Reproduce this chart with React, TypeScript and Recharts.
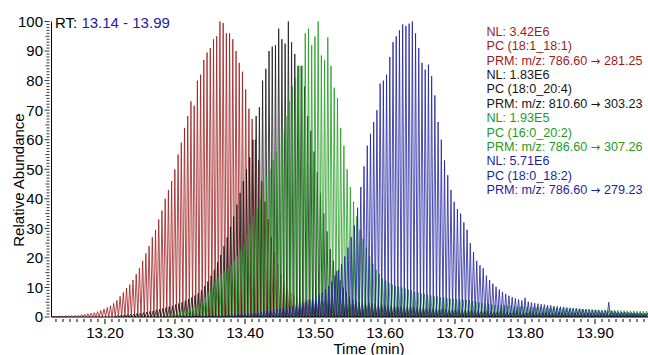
import { LineChart, Line, XAxis, YAxis } from "recharts";

// one PRM cycle (min) and the first scan time of the trace window
const CYCLE = 0.0046;
const T0 = 13.125;

// peak heights (% relative abundance) per scan
const RED_START = 0;
const RED_HEIGHTS = [
  0.2, 0.2, 0.3, 0.3, 0.4, 0.4, 0.5, 0.5, 0.6, 0.8,
  0.9, 1.1, 1.3, 1.5, 1.8, 2.2, 2.7, 3.2, 3.8, 4.6,
  5.6, 7.0, 8.3, 9.8, 11, 12.5, 14.5, 16.5, 19, 21.5,
  24, 27, 29.5, 33, 36, 40, 43, 46, 50, 55,
  59, 64, 68, 73, 71.5, 80, 82, 87, 89.5, 91,
  94, 95, 100, 99.5, 96, 96, 94, 90, 86, 83,
  77, 70.5, 67, 60, 53, 46, 39, 33, 27, 22,
  18, 14.5, 11.5, 9.5, 8.2, 7.3, 6.8, 6.3, 6.0, 5.8,
  5.6, 5.5, 5.3, 5.4, 5.0, 5.1, 4.9, 4.8, 4.9, 4.6,
  4.5, 4.6, 4.3, 4.2, 4.3, 4.0, 3.9, 4.0, 3.8, 3.7,
  3.7, 3.5, 3.6, 3.4, 3.3, 3.4, 3.2, 3.1, 3.2, 3.0,
  3.0, 2.9, 3.0, 2.8, 2.7, 2.8, 2.6, 2.5, 2.6, 2.4,
  2.4, 2.3, 2.4, 2.2, 2.1, 2.2, 2.0, 2.0, 2.1, 1.9,
  1.9, 1.8, 1.9, 1.7, 1.7, 1.8, 1.6, 1.6, 1.7, 1.5,
  1.5, 1.6, 1.4, 1.5, 1.4, 1.4, 1.3, 1.4, 1.3, 1.3,
  1.3, 1.2, 1.3, 1.2, 1.2, 1.1, 1.2, 1.1, 1.1, 1.2,
  1.1, 1.0, 1.1, 1.0, 1.0, 1.1, 1.0, 0.9, 1.0, 1.0,
  0.9, 1.0, 0.9, 0.9, 1.0, 0.9, 0.8, 0.9, 0.9, 0.8,
  0.9, 0.8, 0.8, 0.9, 0.8,
];

const BLACK_START = 20;
const BLACK_HEIGHTS = [
  0.5, 0.6, 0.7, 0.8, 0.9, 1.0, 1.2, 1.3, 1.5, 1.7,
  1.9, 2.1, 2.4, 2.6, 2.9, 3.2, 3.5, 3.8, 4.2, 4.6,
  5.0, 5.5, 6.0, 6.6, 7.3, 8.0, 9.0, 10.5, 12, 14,
  16, 18.5, 21, 24, 27, 30.5, 34, 38, 42, 46,
  50, 54, 60, 68, 71, 80, 84, 90, 91.5, 92,
  97.6, 94, 92.5, 100, 93, 89, 85, 85, 78, 68,
  63, 56, 49, 42, 35, 29, 23, 19, 15.5, 12.5,
  10, 8.3, 7, 6, 5.3, 5.0, 4.9, 4.7, 4.8, 4.5,
  4.4, 4.2, 4.3, 4.1, 4.0, 3.8, 3.9, 3.7, 3.6, 3.5,
  3.5, 3.4, 3.3, 3.2, 3.3, 3.1, 3.0, 3.0, 2.9, 2.9,
  2.8, 2.8, 2.7, 2.6, 2.7, 2.5, 2.5, 2.4, 2.4, 2.3,
  2.3, 2.2, 2.2, 2.1, 2.2, 2.0, 2.0, 2.1, 1.9, 2.0,
  1.9, 1.9, 1.8, 1.9, 1.8, 1.7, 1.8, 1.7, 1.7, 1.6,
  1.7, 1.6, 1.6, 1.5, 1.6, 1.5, 1.5, 1.6, 1.5, 1.4,
  1.5, 1.4, 1.4, 1.5, 1.4, 1.3, 1.4, 1.4, 1.3, 1.3,
  1.4, 1.3, 1.3, 1.2, 1.3, 1.3, 1.2, 1.3, 1.2, 1.2,
  1.3, 1.2, 1.2, 1.1, 1.2,
];

const GREEN_START = 35;
const GREEN_HEIGHTS = [
  0.6, 0.8, 1.0, 1.2, 1.5, 1.8, 2.1, 2.5, 2.9, 3.3,
  4.2, 5.3, 6.5, 8.5, 10.5, 12, 13.5, 14.5, 15.5, 16.5,
  17.5, 19, 20.5, 22.5, 25, 28, 31, 34, 37, 40,
  43.5, 47, 50, 53, 56, 60, 63, 68, 73, 78,
  81, 85, 85, 96, 97.6, 92, 95, 100, 88.5, 87,
  94.6, 85, 77.6, 74, 64, 58, 50, 44, 39, 34,
  29.5, 26.5, 23.5, 20.5, 18, 16, 14.5, 13, 12.3, 11.5,
  11, 10.5, 10.2, 10, 9.6, 9.3, 9, 8.5, 8.3, 8,
  7.8, 7.5, 7.3, 7, 6.9, 6.7, 6.6, 6.4, 6.2, 6.1,
  6.0, 5.9, 5.8, 5.8, 5.7, 5.4, 5.2, 4.9, 4.7, 4.5,
  4.4, 4.2, 4.1, 4.0, 4.0, 3.9, 3.8, 3.8, 3.7, 3.6,
  3.6, 3.5, 3.5, 3.4, 3.4, 3.3, 3.3, 3.2, 3.2, 3.1,
  3.1, 3.0, 3.0, 2.9, 2.9, 2.8, 2.8, 2.8, 2.7, 2.7,
  2.6, 2.6, 2.5, 2.5, 2.5, 2.4, 2.4, 2.3, 2.3, 2.3,
  2.2, 2.2, 2.2, 2.1, 2.1, 2.1, 2.0, 2.0, 2.0, 2.0,
];

const BLUE_START = 40;
const BLUE_HEIGHTS = [
  0.3, 0.3, 0.3, 0.4, 0.4, 0.5, 0.5, 0.5, 0.5, 0.5,
  0.5, 0.5, 0.6, 0.6, 0.7, 0.8, 0.9, 1.0, 1.0, 1.1,
  1.2, 1.3, 1.5, 1.6, 1.8, 2.0, 2.2, 2.3, 2.5, 2.7,
  2.9, 3.1, 3.3, 3.5, 3.8, 4.0, 4.4, 4.8, 5.2, 5.8,
  6.4, 7.0, 7.6, 8.4, 9.4, 10.5, 12, 14, 16, 18,
  20.5, 23.5, 27, 31, 37, 44, 51, 58, 62, 66,
  70, 79, 80, 82, 88, 93, 95, 97, 99, 98.5,
  99.3, 100, 96, 91, 86, 83.7, 85.4, 81.5, 75, 66,
  60, 53, 48, 43, 39, 36.5, 35, 32, 29.5, 25,
  22, 19, 17.5, 16.5, 14, 12.5, 11.3, 10.2, 9.3, 8.5,
  7.8, 7.2, 6.7, 6.3, 5.9, 5.6, 6.5, 5.2, 4.9, 4.7,
  4.5, 4.3, 4.2, 4.0, 3.9, 3.7, 3.6, 3.5, 3.4, 3.2,
  3.1, 3.0, 2.9, 2.8, 2.7, 2.6, 2.5, 2.4, 2.3, 2.2,
  2.1, 2.2, 5.0, 2.0, 1.9, 1.8, 1.7, 1.7, 1.6, 1.5,
  1.5, 1.4, 1.4, 1.3, 1.3,
];

const X_LABELS = ["13.20", "13.30", "13.40", "13.50", "13.60", "13.70", "13.80", "13.90"];
const Y_LABELS = [0, 10, 20, 30, 40, 50, 60, 70, 80, 90, 100];

const RED = "#9e1b1b";
const BLACK = "#151515";
const GREEN = "#1f9a1f";
const BLUE = "#1f1f9e";

// legend lines: text, plus the product ion after the arrow
const LEGEND = [
  { text: "NL: 3.42E6", color: RED },
  { text: "PC (18:1_18:1)", color: RED },
  { text: "PRM: m/z: 786.60", to: "281.25", color: RED },
  { text: "NL: 1.83E6", color: BLACK },
  { text: "PC (18:0_20:4)", color: BLACK },
  { text: "PRM: m/z: 810.60", to: "303.23", color: BLACK },
  { text: "NL: 1.93E5", color: GREEN },
  { text: "PC (16:0_20:2)", color: GREEN },
  { text: "PRM: m/z: 786.60", to: "307.26", color: GREEN },
  { text: "NL: 5.71E6", color: BLUE },
  { text: "PC (18:0_18:2)", color: BLUE },
  { text: "PRM: m/z: 786.60", to: "279.23", color: BLUE },
];

// each scan becomes a spike: up to its height, back to baseline half a cycle later
function buildTrace(heights: number[], start: number, phase: number) {
  const rows: { t: number; v: number }[] = [];
  rows.push({ t: T0 + (start + phase - 0.5) * CYCLE, v: 0 });
  heights.forEach((h, i) => {
    const t = T0 + (start + i + phase) * CYCLE;
    rows.push({ t, v: h });
    rows.push({ t: t + 0.5 * CYCLE, v: 0 });
  });
  return rows;
}

const redData = buildTrace(RED_HEIGHTS, RED_START, 0);
const blackData = buildTrace(BLACK_HEIGHTS, BLACK_START, 0.25);
const greenData = buildTrace(GREEN_HEIGHTS, GREEN_START, 0.5);
const blueData = buildTrace(BLUE_HEIGHTS, BLUE_START, 0.75);

const xTicks: number[] = [];
for (let i = 13; i <= 97; i++) xTicks.push(13 + i / 100);
const yTicks: number[] = [];
for (let i = 0; i <= 100; i++) yTicks.push(i);

const FONT = "'Liberation Sans', Arial, sans-serif";

const XTick = (props: any) => {
  const { x, y, payload } = props;
  const v = payload.value as number;
  const hund = Math.round(v * 100);
  const label = X_LABELS.find((s) => Math.round(parseFloat(s) * 100) === hund);
  return (
    <g>
      <line x1={x} x2={x} y1={y} y2={y + (label ? 5 : 3)} stroke="#000" strokeWidth={1} />
      {label && (
        <text x={x} y={y + 19} textAnchor="middle" fontSize={15} fontFamily={FONT} fill="#000">
          {label}
        </text>
      )}
    </g>
  );
};

const YTick = (props: any) => {
  const { x, y, payload } = props;
  const v = Math.round(payload.value as number);
  const major = Y_LABELS.includes(v);
  const len = major ? 5 : v % 5 === 0 ? 4 : 3;
  return (
    <g>
      <line x1={x - len} x2={x} y1={y} y2={y} stroke="#000" strokeWidth={0.8} />
      {major && (
        <text x={x - 6.5} y={y + 5.4} textAnchor="end" fontSize={15} fontFamily={FONT} fill="#000">
          {v}
        </text>
      )}
    </g>
  );
};

export default function App() {
  return (
    <div style={{ position: "absolute", left: 0, top: 0, width: 648, height: 355, background: "#fff", fontFamily: FONT }}>
      <LineChart width={648} height={355} margin={{ top: 21.5, right: 0, bottom: 0, left: 0 }}>
        <XAxis
          type="number"
          dataKey="t"
          domain={[13.1236, 13.9757]}
          allowDataOverflow
          ticks={xTicks}
          interval={0}
          tickSize={0}
          tickLine={false}
          tick={<XTick />}
          height={38}
          axisLine={{ stroke: "#000" }}
        />
        <YAxis
          type="number"
          domain={[0, 100]}
          ticks={yTicks}
          interval={0}
          tickSize={0}
          tickLine={false}
          tick={<YTick />}
          width={51.5}
          axisLine={{ stroke: "#000" }}
        />
        <Line data={redData} dataKey="v" type="linear" stroke={RED} strokeWidth={0.8} dot={false} activeDot={false} isAnimationActive={false} />
        <Line data={blackData} dataKey="v" type="linear" stroke={BLACK} strokeWidth={0.8} dot={false} activeDot={false} isAnimationActive={false} />
        <Line data={greenData} dataKey="v" type="linear" stroke={GREEN} strokeWidth={0.8} dot={false} activeDot={false} isAnimationActive={false} />
        <Line data={blueData} dataKey="v" type="linear" stroke={BLUE} strokeWidth={0.8} dot={false} activeDot={false} isAnimationActive={false} />
      </LineChart>

      <div style={{ position: "absolute", left: 55, top: 13.5, fontSize: 15, lineHeight: "18px", whiteSpace: "nowrap" }}>
        <span style={{ color: "#000" }}>RT: </span>
        <span style={{ color: "#2020a8" }}>13.14 - 13.99</span>
      </div>

      {LEGEND.map((l, i) => (
        <div
          key={i}
          style={{
            position: "absolute",
            left: 486.5,
            top: 31.7 + i * 14.4 - 7,
            fontSize: 12.6,
            lineHeight: "14px",
            color: l.color,
            whiteSpace: "nowrap",
          }}
        >
          {l.text}
          {l.to && (
            <>
              {" "}
              <span style={{ fontFamily: "'DejaVu Sans', sans-serif", fontSize: 11.5 }}>{"\u2192"}</span>{" "}
              {l.to}
            </>
          )}
        </div>
      ))}

      <div
        style={{
          position: "absolute",
          left: 18.5,
          top: 180,
          fontSize: 15,
          lineHeight: "16px",
          whiteSpace: "nowrap",
          transform: "translate(-50%, -50%) rotate(-90deg)",
        }}
      >
        Relative Abundance
      </div>
      <div
        style={{
          position: "absolute",
          left: 369,
          top: 347.8,
          fontSize: 15,
          lineHeight: "13px",
          whiteSpace: "nowrap",
          transform: "translate(-50%, -50%)",
        }}
      >
        Time (min)
      </div>
    </div>
  );
}
